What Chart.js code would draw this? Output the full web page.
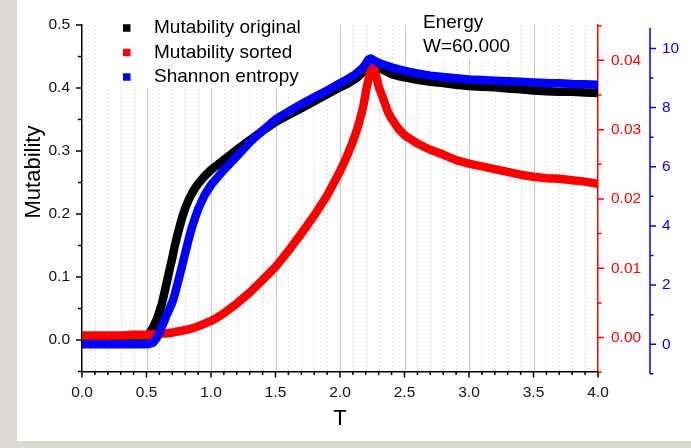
<!DOCTYPE html>
<html>
<head>
<meta charset="utf-8">
<script src="https://cdn.jsdelivr.net/npm/chart.js@4.4.1/dist/chart.umd.min.js"></script>
<style>
  html, body { margin: 0; padding: 0; background: #dddad5; }
  #panel { position: absolute; left: 17px; top: 0; width: 674px; height: 441px; background: #fff; }
</style>
</head>
<body>
<div id="panel"><canvas id="chart" width="674" height="441"></canvas></div>
<script>
// temperature grid
const T = [0, 0.1, 0.2, 0.3, 0.4, 0.45, 0.5, 0.52, 0.55, 0.58, 0.6, 0.62, 0.65, 0.68, 0.7, 0.72,
  0.75, 0.78, 0.8, 0.83, 0.85, 0.88, 0.9, 0.95, 1.0, 1.05, 1.1, 1.15, 1.2, 1.3, 1.4, 1.5, 1.6,
  1.7, 1.8, 1.9, 2.0, 2.05, 2.1, 2.13, 2.15, 2.18, 2.2, 2.22, 2.24, 2.26, 2.28, 2.3, 2.34, 2.37,
  2.4, 2.45, 2.5, 2.6, 2.7, 2.8, 2.9, 3.0, 3.1, 3.2, 3.3, 3.4, 3.5, 3.6, 3.7, 3.8, 3.9, 4.0];

// mutability, original ordering (left axis)
const mutOriginal = [0.000, 0.000, 0.000, 0.000, 0.001, 0.002, 0.005, 0.010, 0.020, 0.033, 0.045,
  0.058, 0.085, 0.113, 0.130, 0.150, 0.175, 0.197, 0.209, 0.224, 0.232, 0.242, 0.248, 0.260, 0.270,
  0.278, 0.286, 0.294, 0.302, 0.317, 0.332, 0.346, 0.357, 0.368, 0.379, 0.390, 0.401, 0.406, 0.412,
  0.416, 0.420, 0.426, 0.432, 0.440, 0.444, 0.440, 0.436, 0.433, 0.428, 0.425, 0.422, 0.419, 0.417,
  0.413, 0.410, 0.408, 0.405, 0.403, 0.402, 0.401, 0.399, 0.398, 0.396, 0.395, 0.394, 0.394, 0.393, 0.392];

// mutability, sorted (red axis)
const mutSorted = [0.0003, 0.0003, 0.0003, 0.0003, 0.0004, 0.0004, 0.0004, 0.0004, 0.0005, 0.0005, 0.0005,
  0.0006, 0.0006, 0.0007, 0.0007, 0.0008, 0.0009, 0.0010, 0.0011, 0.0012, 0.0013, 0.0015, 0.0016, 0.0020,
  0.0024, 0.0029, 0.0035, 0.0042, 0.0049, 0.0065, 0.0083, 0.0102, 0.0125, 0.0150, 0.0176, 0.0205, 0.0240,
  0.0260, 0.0283, 0.0299, 0.0312, 0.0333, 0.0354, 0.0372, 0.0386, 0.0390, 0.0378, 0.0362, 0.0342, 0.0326,
  0.0316, 0.0302, 0.0292, 0.0280, 0.0271, 0.0264, 0.0256, 0.0251, 0.0247, 0.0243, 0.0239, 0.0235, 0.0232,
  0.0230, 0.0229, 0.0227, 0.0225, 0.0222];

// Shannon entropy (blue axis)
const entropy = [0.00, 0.00, 0.00, 0.00, 0.00, 0.00, 0.00, 0.01, 0.05, 0.22, 0.40, 0.60, 0.92, 1.22, 1.42,
  1.70, 2.20, 2.72, 3.08, 3.60, 3.92, 4.32, 4.56, 5.04, 5.38, 5.64, 5.90, 6.12, 6.35, 6.82, 7.22, 7.60,
  7.86, 8.11, 8.35, 8.58, 8.82, 8.94, 9.07, 9.16, 9.24, 9.36, 9.48, 9.62, 9.66, 9.60, 9.55, 9.51, 9.45,
  9.40, 9.36, 9.30, 9.24, 9.15, 9.08, 9.03, 8.99, 8.95, 8.93, 8.91, 8.89, 8.87, 8.85, 8.83, 8.82, 8.80,
  8.79, 8.77];

// tick labels
const xTicks = [0, 0.5, 1.0, 1.5, 2.0, 2.5, 3.0, 3.5, 4.0];
const yTicks = [0, 0.1, 0.2, 0.3, 0.4, 0.5];
const redTicks = [0, 0.01, 0.02, 0.03, 0.04];
const blueTicks = [0, 2, 4, 6, 8, 10];

const FONT = '"Liberation Sans", Arial, sans-serif';
Chart.defaults.font.family = FONT;

// minor tick positions between (and around) the majors
function minors(major, parts, lo, hi) {
  const step = (major[1] - major[0]) / parts;
  const out = [];
  for (let v = lo; v <= hi + 1e-9; v += step) {
    const onMajor = major.some(m => Math.abs(m - v) < step / 10);
    if (!onMajor) out.push(+v.toFixed(6));
  }
  return out;
}

const pts = (ys) => T.map((t, i) => ({ x: t, y: ys[i] }));

const series = (label, data, color, axis, order) => ({
  label, data: pts(data), yAxisID: axis, order,
  borderColor: color, backgroundColor: color,
  borderWidth: 8.5, borderJoinStyle: 'round',
  pointRadius: 0, tension: 0
});

const fixWidth = w => s => { s.width = w; };
const noGrid = { display: false, drawTicks: false };

const decor = {
  id: 'decor',
  beforeDatasetsDraw(chart) {
    const { ctx, chartArea: a, scales } = chart;
    const x = scales.x;
    ctx.save();
    // dotted minor grid
    ctx.strokeStyle = '#dcdcdc';
    ctx.lineWidth = 1;
    ctx.setLineDash([2, 2]);
    ctx.beginPath();
    minors(xTicks, 5, 0, 4).forEach(v => {
      const p = Math.round(x.getPixelForValue(v)) + 0.5;
      ctx.moveTo(p, a.top); ctx.lineTo(p, a.bottom);
    });
    ctx.stroke();
    // solid major grid
    ctx.setLineDash([]);
    ctx.strokeStyle = '#c4c4c4';
    ctx.beginPath();
    xTicks.slice(1, -1).forEach(v => {
      const p = Math.round(x.getPixelForValue(v)) + 0.5;
      ctx.moveTo(p, a.top); ctx.lineTo(p, a.bottom);
    });
    ctx.stroke();
    // white backing for legend and note
    ctx.fillStyle = '#fff';
    ctx.fillRect(83, a.top, 235, 63);
    ctx.fillRect(393, a.top, 105, 35);
    ctx.restore();
  },
  afterDraw(chart) {
    const { ctx, chartArea: a, scales } = chart;
    const { x, y, yR, yB } = scales;
    ctx.save();
    ctx.lineWidth = 1.5;

    const marks = (scale, values, len, color, edge, dir) => {
      ctx.strokeStyle = color;
      ctx.beginPath();
      values.forEach(v => {
        const p = scale.getPixelForValue(v);
        if (scale.isHorizontal()) { ctx.moveTo(p, edge); ctx.lineTo(p, edge + dir * len); }
        else { ctx.moveTo(edge, p); ctx.lineTo(edge + dir * len, p); }
      });
      ctx.stroke();
    };

    marks(x, xTicks, 6, '#000', a.bottom, 1);
    marks(x, minors(xTicks, 5, 0, 4), 3.5, '#000', a.bottom, 1);
    marks(y, yTicks, 6, '#000', a.left, -1);
    marks(y, minors(yTicks, 2, -0.05, 0.5), 4, '#000', a.left, -1);
    marks(yR, redTicks, 6, '#f00', a.right, 1);
    marks(yR, minors(redTicks, 2, -0.005, 0.045), 3.5, '#f00', a.right, 1);

    // entropy axis line runs a little past the shared area
    const bx = yB.left;
    ctx.strokeStyle = '#00f';
    ctx.beginPath();
    ctx.moveTo(bx, yB.getPixelForValue(-1));
    ctx.lineTo(bx, yB.getPixelForValue(10.7));
    ctx.stroke();
    marks(yB, blueTicks, 6, '#00f', bx, 1);
    marks(yB, minors(blueTicks, 2, -1, 10), 3.5, '#00f', bx, 1);

    // axis titles
    ctx.fillStyle = '#000';
    ctx.font = '22px ' + FONT;
    ctx.textAlign = 'center';
    ctx.textBaseline = 'middle';
    ctx.fillText('T', (a.left + a.right) / 2, 419);
    ctx.save();
    ctx.translate(17, 172);
    ctx.rotate(-Math.PI / 2);
    ctx.fillText('Mutability', 0, 0);
    ctx.restore();

    // legend
    ctx.font = '19px ' + FONT;
    ctx.textAlign = 'left';
    ctx.textBaseline = 'alphabetic';
    chart.data.datasets.slice().sort((p, q) => q.order - p.order).forEach((ds, i) => {
      const cy = 28 + i * 24.5;
      ctx.fillStyle = ds.borderColor;
      ctx.fillRect(106, cy - 3.75, 7.5, 7.5);
      ctx.fillStyle = '#000';
      ctx.fillText(ds.label, 137, cy + 5.3);
    });

    // note
    ctx.fillText('Energy', 406, 28);
    ctx.fillText('W=60.000', 406, 52);
    ctx.restore();
  }
};

new Chart(document.getElementById('chart'), {
  type: 'line',
  data: {
    datasets: [
      series('Shannon entropy', entropy, '#0000ff', 'yB', 0),
      series('Mutability sorted', mutSorted, '#ff0000', 'yR', 1),
      series('Mutability original', mutOriginal, '#000000', 'y', 2)
    ]
  },
  options: {
    responsive: false,
    animation: false,
    layout: { padding: { top: 25, left: 0, right: 0, bottom: 0 } },
    plugins: { legend: { display: false }, tooltip: { enabled: false } },
    scales: {
      x: {
        type: 'linear', position: 'bottom', min: 0, max: 4,
        afterFit: s => { s.height = 69.5; },
        afterBuildTicks: s => { s.ticks = xTicks.map(v => ({ value: v })); },
        grid: noGrid,
        border: { color: '#000', width: 1.5 },
        ticks: { padding: 12, color: '#111', font: { size: 15.5 }, callback: v => v.toFixed(1) }
      },
      y: {
        type: 'linear', position: 'left', min: -0.05, max: 0.5,
        afterFit: fixWidth(65),
        afterBuildTicks: s => { s.ticks = yTicks.map(v => ({ value: v })); },
        grid: noGrid,
        border: { color: '#000', width: 1.5 },
        ticks: { padding: 12, color: '#111', font: { size: 15.5 }, callback: v => v.toFixed(1) }
      },
      yR: {
        type: 'linear', position: 'right', weight: 0, min: -0.0049, max: 0.0451,
        afterFit: fixWidth(52),
        afterBuildTicks: s => { s.ticks = redTicks.map(v => ({ value: v })); },
        grid: noGrid,
        border: { color: '#f00', width: 1.5 },
        ticks: { padding: 13, color: '#f00', font: { size: 15.5 }, callback: v => v.toFixed(2) }
      },
      yB: {
        type: 'linear', position: 'right', weight: 1, min: -0.92, max: 10.79,
        afterFit: fixWidth(41),
        afterBuildTicks: s => { s.ticks = blueTicks.map(v => ({ value: v })); },
        grid: noGrid,
        border: { display: false },
        ticks: { padding: 12, color: '#00f', font: { size: 15.5 }, callback: v => String(v) }
      }
    }
  },
  plugins: [decor]
});
</script>
</body>
</html>
